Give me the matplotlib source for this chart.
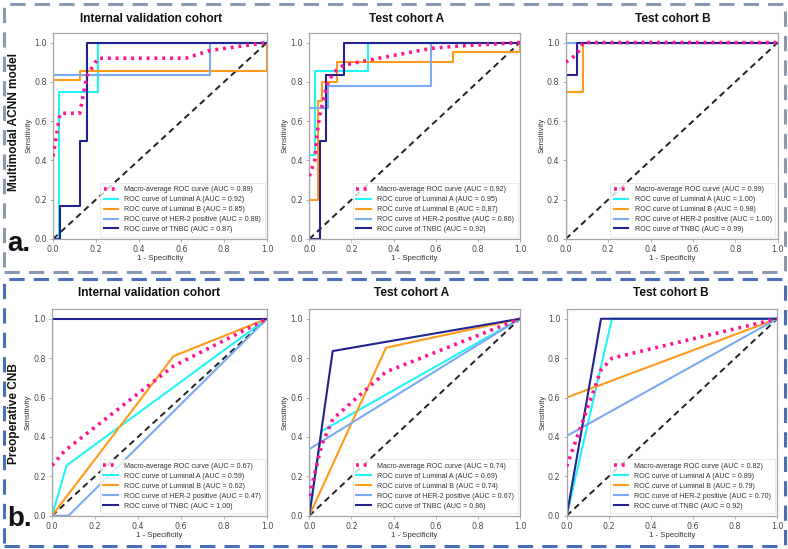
import matplotlib
matplotlib.use("Agg")
import matplotlib.pyplot as plt
from matplotlib.patches import Rectangle

W, H = 788, 549
DPI = 100

# ---------------- data ----------------
titles = ["Internal validation cohort", "Test cohort A", "Test cohort B"]
row_labels = ["Multimodal ACNN model", "Preoperative CNB"]
panel_letters = ["a.", "b."]
class_names = ["Luminal A", "Luminal B", "HER-2 positive", "TNBC"]

# Row a: Multimodal ACNN model
a_int_lumA_fpr = [0, 0.03, 0.03, 0.21, 0.21, 1]
a_int_lumA_tpr = [0, 0, 0.75, 0.75, 1, 1]
a_int_lumB_fpr = [0, 0, 0.125, 0.125, 1, 1]
a_int_lumB_tpr = [0, 0.81, 0.81, 0.857, 0.857, 1]
a_int_her2_fpr = [0, 0, 0.735, 0.735, 1]
a_int_her2_tpr = [0, 0.833, 0.833, 1, 1]
a_int_tnbc_fpr = [0, 0.035, 0.035, 0.127, 0.127, 0.158, 0.158, 1]
a_int_tnbc_tpr = [0, 0, 0.17, 0.17, 0.5, 0.5, 1, 1]
a_int_macro_fpr = [0, 0.03, 0.035, 0.125, 0.158, 0.21, 0.62, 0.735, 1]
a_int_macro_tpr = [0.42, 0.62, 0.64, 0.64, 0.83, 0.92, 0.92, 0.96, 1.0]
a_int_auc = [0.89, 0.92, 0.85, 0.88, 0.87]

a_tA_lumA_fpr = [0, 0, 0.027, 0.027, 0.28, 0.28, 1]
a_tA_lumA_tpr = [0, 0.43, 0.43, 0.857, 0.857, 1, 1]
a_tA_lumB_fpr = [0, 0, 0.042, 0.042, 0.062, 0.062, 0.132, 0.132, 0.68, 0.68, 1, 1]
a_tA_lumB_tpr = [0, 0.2, 0.2, 0.7, 0.7, 0.8, 0.8, 0.9, 0.9, 0.95, 0.95, 1]
a_tA_her2_fpr = [0, 0, 0.088, 0.088, 0.577, 0.577, 1]
a_tA_her2_tpr = [0, 0.667, 0.667, 0.778, 0.778, 1, 1]
a_tA_tnbc_fpr = [0, 0.053, 0.053, 0.081, 0.081, 0.163, 0.163, 1]
a_tA_tnbc_tpr = [0, 0, 0.5, 0.5, 0.833, 0.833, 1, 1]
a_tA_macro_fpr = [0, 0.026, 0.037, 0.05, 0.068, 0.08, 0.093, 0.13, 0.163, 0.28, 0.577, 0.68, 1]
a_tA_macro_tpr = [0.32, 0.40, 0.54, 0.63, 0.71, 0.77, 0.81, 0.86, 0.885, 0.91, 0.97, 0.98, 1.0]
a_tA_auc = [0.92, 0.95, 0.87, 0.86, 0.92]

a_tB_lumA_fpr = [0, 0, 1]
a_tB_lumA_tpr = [0, 1, 1]
a_tB_lumB_fpr = [0, 0, 0.083, 0.083, 1]
a_tB_lumB_tpr = [0, 0.75, 0.75, 1, 1]
a_tB_her2_fpr = [0, 0, 1]
a_tB_her2_tpr = [0, 1, 1]
a_tB_tnbc_fpr = [0, 0, 0.053, 0.053, 1]
a_tB_tnbc_tpr = [0, 0.833, 0.833, 1, 1]
a_tB_macro_fpr = [0, 0.053, 0.083, 1]
a_tB_macro_tpr = [0.9, 0.94, 1.0, 1.0]
a_tB_auc = [0.99, 1.00, 0.98, 1.00, 0.99]

# Row b: Preoperative CNB
b_int_lumA_fpr = [0, 0.068, 1]
b_int_lumA_tpr = [0, 0.255, 1]
b_int_lumB_fpr = [0, 0.565, 1]
b_int_lumB_tpr = [0, 0.81, 1]
b_int_her2_fpr = [0, 0.077, 1]
b_int_her2_tpr = [0, 0, 1]
b_int_tnbc_fpr = [0, 0, 1]
b_int_tnbc_tpr = [0, 1, 1]
b_int_macro_fpr = [0, 0.068, 0.077, 0.565, 1]
b_int_macro_tpr = [0.255, 0.34, 0.345, 0.76, 1.0]
b_int_auc = [0.67, 0.59, 0.62, 0.47, 1.00]

b_tA_lumA_fpr = [0, 0.059, 1]
b_tA_lumA_tpr = [0, 0.43, 1]
b_tA_lumB_fpr = [0, 0.364, 1]
b_tA_lumB_tpr = [0, 0.853, 1]
b_tA_her2_fpr = [0, 0, 1]
b_tA_her2_tpr = [0, 0.338, 1]
b_tA_tnbc_fpr = [0, 0.111, 1]
b_tA_tnbc_tpr = [0, 0.836, 1]
b_tA_macro_fpr = [0, 0.059, 0.111, 0.364, 1]
b_tA_macro_tpr = [0.1, 0.36, 0.49, 0.73, 1.0]
b_tA_auc = [0.74, 0.69, 0.74, 0.67, 0.86]

b_tB_lumA_fpr = [0, 0.215, 1]
b_tB_lumA_tpr = [0, 1, 1]
b_tB_lumB_fpr = [0, 0, 1]
b_tB_lumB_tpr = [0, 0.6, 1]
b_tB_her2_fpr = [0, 0, 1]
b_tB_her2_tpr = [0, 0.405, 1]
b_tB_tnbc_fpr = [0, 0.163, 1]
b_tB_tnbc_tpr = [0, 1, 1]
b_tB_macro_fpr = [0, 0.163, 0.215, 1]
b_tB_macro_tpr = [0.25, 0.74, 0.80, 1.0]
b_tB_auc = [0.82, 0.89, 0.79, 0.70, 0.92]

xticks = [0.0, 0.2, 0.4, 0.6, 0.8, 1.0]
yticks = [0.0, 0.2, 0.4, 0.6, 0.8, 1.0]

panels = [
    [  # row a
        dict(lumA=(a_int_lumA_fpr, a_int_lumA_tpr), lumB=(a_int_lumB_fpr, a_int_lumB_tpr),
             her2=(a_int_her2_fpr, a_int_her2_tpr), tnbc=(a_int_tnbc_fpr, a_int_tnbc_tpr),
             macro=(a_int_macro_fpr, a_int_macro_tpr), auc=a_int_auc),
        dict(lumA=(a_tA_lumA_fpr, a_tA_lumA_tpr), lumB=(a_tA_lumB_fpr, a_tA_lumB_tpr),
             her2=(a_tA_her2_fpr, a_tA_her2_tpr), tnbc=(a_tA_tnbc_fpr, a_tA_tnbc_tpr),
             macro=(a_tA_macro_fpr, a_tA_macro_tpr), auc=a_tA_auc),
        dict(lumA=(a_tB_lumA_fpr, a_tB_lumA_tpr), lumB=(a_tB_lumB_fpr, a_tB_lumB_tpr),
             her2=(a_tB_her2_fpr, a_tB_her2_tpr), tnbc=(a_tB_tnbc_fpr, a_tB_tnbc_tpr),
             macro=(a_tB_macro_fpr, a_tB_macro_tpr), auc=a_tB_auc),
    ],
    [  # row b
        dict(lumA=(b_int_lumA_fpr, b_int_lumA_tpr), lumB=(b_int_lumB_fpr, b_int_lumB_tpr),
             her2=(b_int_her2_fpr, b_int_her2_tpr), tnbc=(b_int_tnbc_fpr, b_int_tnbc_tpr),
             macro=(b_int_macro_fpr, b_int_macro_tpr), auc=b_int_auc),
        dict(lumA=(b_tA_lumA_fpr, b_tA_lumA_tpr), lumB=(b_tA_lumB_fpr, b_tA_lumB_tpr),
             her2=(b_tA_her2_fpr, b_tA_her2_tpr), tnbc=(b_tA_tnbc_fpr, b_tA_tnbc_tpr),
             macro=(b_tA_macro_fpr, b_tA_macro_tpr), auc=b_tA_auc),
        dict(lumA=(b_tB_lumA_fpr, b_tB_lumA_tpr), lumB=(b_tB_lumB_fpr, b_tB_lumB_tpr),
             her2=(b_tB_her2_fpr, b_tB_her2_tpr), tnbc=(b_tB_tnbc_fpr, b_tB_tnbc_tpr),
             macro=(b_tB_macro_fpr, b_tB_macro_tpr), auc=b_tB_auc),
    ],
]

# ---------------- style ----------------
col_macro = "#ff1493"
col_lumA = "#22f5f5"
col_lumB = "#ff9a1a"
col_her2 = "#7aaaf2"
col_tnbc = "#23238f"
spine_col = "#a6a6a6"
tick_col = "#4a4a4a"
legend_font = "Liberation Sans"

fig = plt.figure(figsize=(W / DPI, H / DPI), dpi=DPI)


def px_axes(x0, x1, ybot, ytop):
    return fig.add_axes([x0 / W, 1 - ybot / H, (x1 - x0) / W, (ybot - ytop) / H])


# axes pixel geometry: (x at 0, x at 1, y at 0, y at 1.05)
geom = [
    [(53, 267, 239, 32.7), (309.3, 520, 239, 32.7), (565.7, 777.7, 239, 32.7)],
    [(52, 267, 515.7, 308.9), (309.3, 520, 515.7, 308.9), (566.7, 777.3, 515.7, 308.9)],
]
title_pos = [
    [(151, 19), (407, 19), (672.5, 19)],
    [(149, 293), (412, 293), (670.5, 293)],
]

for r in range(2):
    for c in range(3):
        x0, x1, yb, yt = geom[r][c]
        ax = px_axes(x0, x1, yb, yt)
        d = panels[r][c]
        auc = d["auc"]
        ax.plot(*d["macro"], color=col_macro, linestyle=(0, (0.8, 1.35)), lw=2.6,
                label=f"Macro-average ROC curve (AUC = {auc[0]:.2f})", zorder=3)
        ax.plot(*d["lumA"], color=col_lumA, lw=1.5,
                label=f"ROC curve of {class_names[0]} (AUC = {auc[1]:.2f})", zorder=2)
        ax.plot(*d["lumB"], color=col_lumB, lw=1.5,
                label=f"ROC curve of {class_names[1]} (AUC = {auc[2]:.2f})", zorder=2)
        ax.plot(*d["her2"], color=col_her2, lw=1.5,
                label=f"ROC curve of {class_names[2]} (AUC = {auc[3]:.2f})", zorder=2)
        ax.plot(*d["tnbc"], color=col_tnbc, lw=1.5,
                label=f"ROC curve of {class_names[3]} (AUC = {auc[4]:.2f})", zorder=2)
        ax.plot([0, 1], [0, 1], color="#222222", linestyle=(0, (3.2, 2.2)), lw=1.4, zorder=1)

        ax.set_xlim(0, 1.0)
        ax.set_ylim(0, 1.05)
        ax.set_xticks(xticks)
        ax.set_yticks(yticks)
        ax.set_xticklabels([f"{v:.1f}" for v in xticks])
        ax.set_yticklabels([f"{v:.1f}" for v in yticks])
        ax.tick_params(labelsize=5.8, colors=tick_col, length=2.5, width=0.6,
                       color=spine_col, pad=2)
        for s in ax.spines.values():
            s.set_color(spine_col)
            s.set_linewidth(0.9)

        ax.set_xlabel("1 - Specificity", fontsize=5.6, family=legend_font, color="#333333")
        ax.set_ylabel("Sensitivity", fontsize=5.6, family=legend_font, color="#333333")
        axw = x1 - x0
        axh = yb - yt
        ax.xaxis.set_label_coords(0.5, -(255.5 - 239) / axh)
        ax.yaxis.set_label_coords(-20.5 / axw, 0.5)

        leg = ax.legend(loc="lower right", prop={"family": legend_font, "size": 5.1},
                        frameon=True, fancybox=False, borderaxespad=0.35,
                        handlelength=2.0, handletextpad=0.9, labelspacing=0.42,
                        borderpad=0.5)
        leg.get_frame().set_edgecolor("#e0e0e0")
        leg.get_frame().set_linewidth(0.6)
        for t in leg.get_texts():
            t.set_color("#333333")

        tx, ty = title_pos[r][c]
        fig.text(tx / W, 1 - ty / H, titles[c], ha="center", va="center",
                 fontsize=8.6, fontweight="bold", family="Liberation Sans", color="#111111")

# row labels
fig.text(14 / W, 1 - 122 / H, row_labels[0], rotation=90, ha="center", va="center",
         fontsize=8.6, fontweight="bold", family="Liberation Sans", color="#111111")
fig.text(14 / W, 1 - 414 / H, row_labels[1], rotation=90, ha="center", va="center",
         fontsize=8.6, fontweight="bold", family="Liberation Sans", color="#111111")

# panel letters
fig.text(7 / W, 1 - 244 / H, panel_letters[0], ha="left", va="center",
         fontsize=20, fontweight="bold", family="Liberation Sans", color="#111111")
fig.text(7 / W, 1 - 519 / H, panel_letters[1], ha="left", va="center",
         fontsize=20, fontweight="bold", family="Liberation Sans", color="#111111")

# dashed outer frames
fig.patches.append(Rectangle((3.5 / W, 1 - 272 / H), (784.5 - 3.5) / W, (272 - 3.5) / H,
                             transform=fig.transFigure, fill=False, edgecolor="#8a98b2",
                             linewidth=2.2, linestyle=(0, (5, 3))))
fig.patches.append(Rectangle((3.5 / W, 1 - 545.5 / H), (784.5 - 3.5) / W, (545.5 - 279) / H,
                             transform=fig.transFigure, fill=False, edgecolor="#4a6ebc",
                             linewidth=2.2, linestyle=(0, (5, 3))))

fig.savefig("out.png", dpi=DPI)
